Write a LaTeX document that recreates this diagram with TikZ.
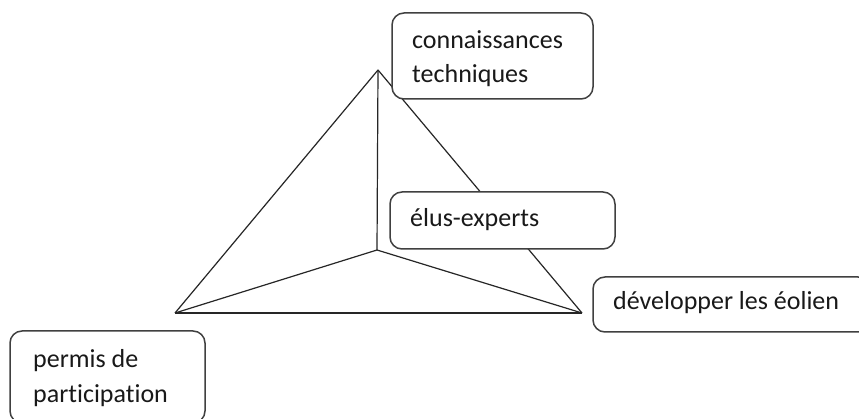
\documentclass[tikz,border=0pt]{standalone}
\usepackage{fontspec}
\setmainfont[Ligatures=NoCommon]{Carlito}
\begin{document}
\begin{tikzpicture}[x=1pt,y=-1pt,
  edge/.style={draw=black!85,line width=1.2pt},
  box/.style={draw=black!75,line width=1.5pt,fill=white,rounded corners=12pt,inner sep=0pt},
  lbl/.style={font=\fontsize{26}{34}\selectfont,text=black!90,inner sep=0pt}]
\useasboundingbox (0,0) rectangle (859,419);
\fill[white] (0,0) rectangle (859,419);
% vertices
\coordinate (A) at (378,70);
\coordinate (I) at (377,250);
\coordinate (L) at (175,313);
\coordinate (R) at (582,313);
\draw[edge] (A) -- (L);
\draw[edge] (A) -- (I);
\draw[edge] (A) -- (R);
\draw[edge] (L) -- (R);
\draw[edge] (L) -- (I);
\draw[edge] (I) -- (R);
% boxes
\node[box,minimum width=201pt,minimum height=86pt] (tech) at (492.5,56) {};
\node[box,minimum width=225pt,minimum height=57pt] (elus) at (502.5,220.5) {};
\node[box,minimum width=277pt,minimum height=55pt] (dev) at (731.5,304.5) {};
\node[box,minimum width=195pt,minimum height=92pt] (perm) at (107.5,377) {};
% texts
\node[lbl,anchor=base west] (t1) at (412,49) {connaissances};
\node[lbl,anchor=base west] (t2) at (412,83) {techniques};
\node[lbl,anchor=base west] (t3) at (410,227) {élus-experts};
\node[lbl,anchor=base west] (t4) at (613,310) {développer les éolien};
\node[lbl,anchor=base west] (t5) at (33,367) {permis de};
\node[lbl,anchor=base west] (t6) at (33,402) {participation};
\end{tikzpicture}
\end{document}
